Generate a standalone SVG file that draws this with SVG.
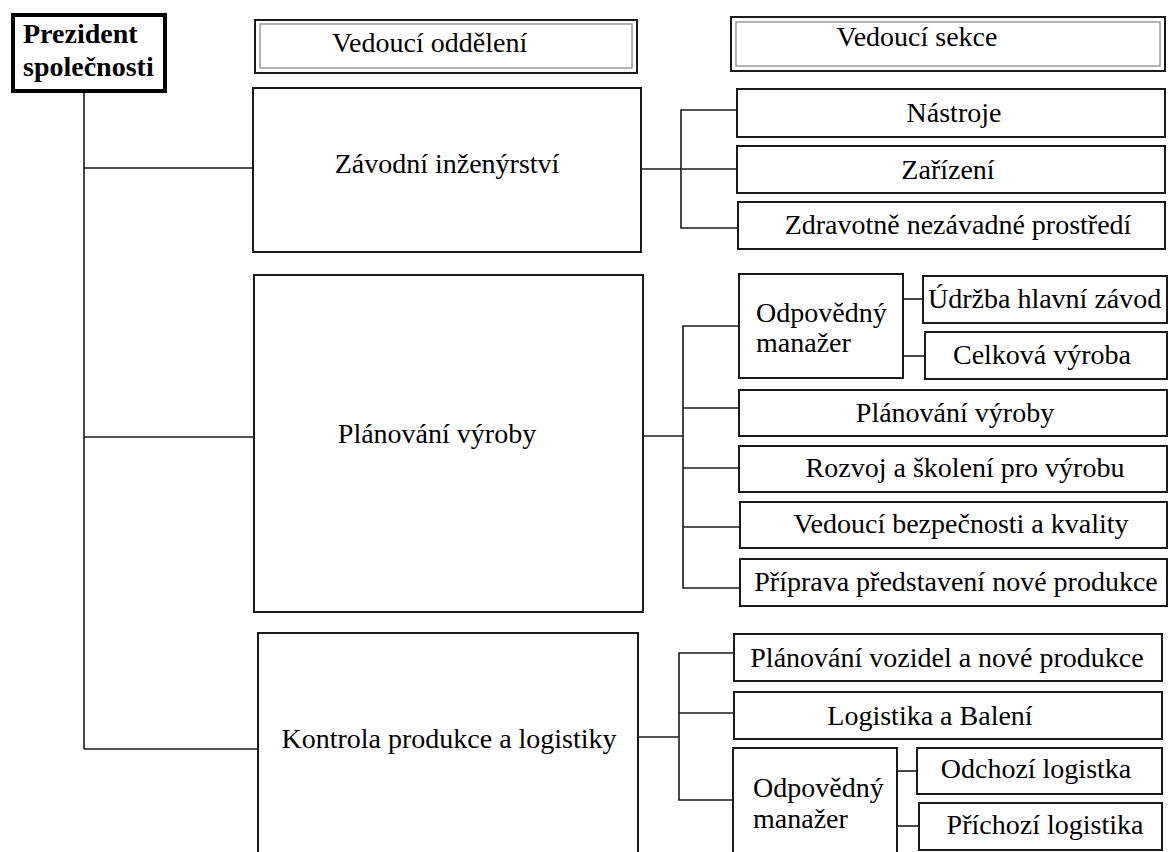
<svg xmlns="http://www.w3.org/2000/svg" width="1169" height="852" viewBox="0 0 1169 852">
<style>
.bg{fill:#fff}
.box{fill:#fff;stroke:#1a1a1a;stroke-width:2}
.inner{fill:none;stroke:#9a9a9a;stroke-width:1.5}
.pres{fill:#fff;stroke:#000;stroke-width:4}
.t{font-family:"Liberation Serif","Times New Roman",serif;font-size:28px;fill:#000}
.b{font-weight:bold}
.m{text-anchor:middle}
.c line,.c polyline{stroke:#1a1a1a;stroke-width:1.6;fill:none}
</style>
<rect class="bg" x="0" y="0" width="1169" height="852"/>
<g class="c" id="connectors">
<polyline points="84,93 84,749"/>
<line x1="84" y1="168" x2="253" y2="168"/>
<line x1="84" y1="437" x2="254" y2="437"/>
<line x1="84" y1="749" x2="258" y2="749"/>
<line x1="641" y1="169" x2="681" y2="169"/>
<polyline points="737,110 681,110 681,228 738,228"/>
<line x1="681" y1="169" x2="737" y2="169"/>
<line x1="643" y1="436" x2="683" y2="436"/>
<polyline points="739,326 683,326 683,588 740,588"/>
<line x1="683" y1="408" x2="739" y2="408"/>
<line x1="683" y1="468" x2="739" y2="468"/>
<line x1="683" y1="527" x2="740" y2="527"/>
<line x1="903" y1="299" x2="923" y2="299"/>
<line x1="903" y1="356" x2="925" y2="356"/>
<line x1="638" y1="737" x2="679" y2="737"/>
<polyline points="734,653 679,653 679,800 733,800"/>
<line x1="679" y1="713" x2="734" y2="713"/>
<line x1="897" y1="771" x2="917" y2="771"/>
<line x1="897" y1="826" x2="919" y2="826"/>
</g>
<g id="president">
<rect class="pres" x="13" y="15" width="152" height="76"/>
<text class="t b" x="23" y="43">Prezident</text>
<text class="t b" x="23" y="76">společnosti</text>
</g>
<g id="hdr-oddeleni">
<rect class="box" x="255" y="20" width="382" height="53"/>
<rect class="inner" x="260" y="24" width="372" height="44"/>
<text class="t" x="332" y="52">Vedoucí oddělení</text>
</g>
<g id="hdr-sekce">
<rect class="box" x="731" y="17" width="434" height="54"/>
<rect class="inner" x="736" y="22" width="424" height="44"/>
<text class="t m" x="917" y="46">Vedoucí sekce</text>
</g>
<g id="zavodni">
<rect class="box" x="253" y="88" width="388" height="164"/>
<text class="t m" x="447" y="173">Závodní inženýrství</text>
</g>
<g id="planovani">
<rect class="box" x="254" y="275" width="389" height="337"/>
<text class="t m" x="437" y="443">Plánování výroby</text>
</g>
<g id="kontrola">
<rect class="box" x="258" y="633" width="380" height="230"/>
<text class="t m" x="449" y="748">Kontrola produkce a logistiky</text>
</g>
<g id="nastroje">
<rect class="box" x="737" y="89" width="428" height="48"/>
<text class="t m" x="954" y="122">Nástroje</text>
</g>
<g id="zarizeni">
<rect class="box" x="737" y="146" width="428" height="47"/>
<text class="t m" x="948" y="179">Zařízení</text>
</g>
<g id="zdravotne">
<rect class="box" x="738" y="202" width="427" height="47"/>
<text class="t m" x="958" y="234">Zdravotně nezávadné prostředí</text>
</g>
<g id="odp1">
<rect class="box" x="739" y="274" width="164" height="104"/>
<text class="t" x="756" y="322">Odpovědný</text>
<text class="t" x="756" y="352">manažer</text>
</g>
<g id="udrzba">
<rect class="box" x="923" y="276" width="244" height="47"/>
<text class="t" x="928" y="308">Údržba hlavní závod</text>
</g>
<g id="celkova">
<rect class="box" x="925" y="332" width="242" height="47"/>
<text class="t m" x="1042" y="364">Celková výroba</text>
</g>
<g id="planovani-sekce">
<rect class="box" x="739" y="390" width="428" height="46"/>
<text class="t m" x="955" y="422">Plánování výroby</text>
</g>
<g id="rozvoj">
<rect class="box" x="739" y="446" width="428" height="46"/>
<text class="t m" x="965" y="477">Rozvoj a školení pro výrobu</text>
</g>
<g id="bezpecnost">
<rect class="box" x="740" y="502" width="427" height="46"/>
<text class="t m" x="961" y="533">Vedoucí bezpečnosti a kvality</text>
</g>
<g id="priprava">
<rect class="box" x="740" y="559" width="427" height="47"/>
<text class="t m" x="956" y="591">Příprava představení nové produkce</text>
</g>
<g id="vozidla">
<rect class="box" x="734" y="634" width="428" height="47"/>
<text class="t m" x="947" y="667">Plánování vozidel a nové produkce</text>
</g>
<g id="logistika">
<rect class="box" x="734" y="692" width="428" height="47"/>
<text class="t m" x="930" y="725">Logistika a Balení</text>
</g>
<g id="odp2">
<rect class="box" x="733" y="748" width="164" height="115"/>
<text class="t" x="753" y="797">Odpovědný</text>
<text class="t" x="753" y="828">manažer</text>
</g>
<g id="odchozi">
<rect class="box" x="917" y="748" width="245" height="46"/>
<text class="t m" x="1036" y="778">Odchozí logistka</text>
</g>
<g id="prichozi">
<rect class="box" x="919" y="803" width="243" height="47"/>
<text class="t m" x="1045" y="834">Příchozí logistika</text>
</g>
</svg>
